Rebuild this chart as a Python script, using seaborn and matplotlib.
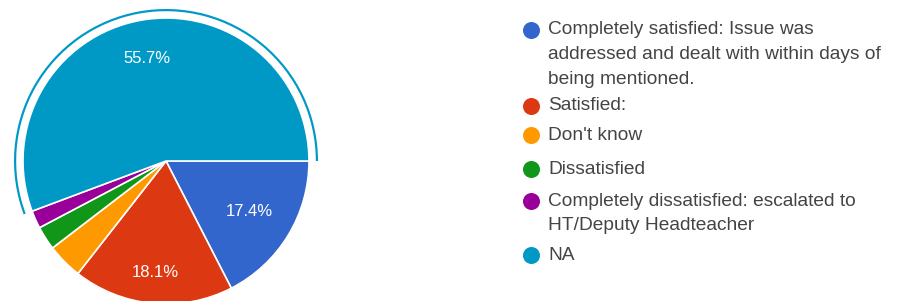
import numpy as np
import matplotlib
matplotlib.use("Agg")
import matplotlib.pyplot as plt
from matplotlib.patches import Wedge
import seaborn as sns

# responses (percentages 17.4 / 18.1 / 55.7 match these counts)
labels = [
    "Completely satisfied: Issue was\naddressed and dealt with within days of\nbeing mentioned.",
    "Satisfied:",
    "Don't know",
    "Dissatisfied",
    "Completely dissatisfied: escalated to\nHT/Deputy Headteacher",
    "NA",
]
counts = [26, 27, 6, 4, 3, 83]
colors = ["#3366CC", "#DC3912", "#FF9900", "#109618", "#990099", "#0099C6"]

sns.set_theme(style="white")
plt.rcParams["font.family"] = ["Liberation Sans", "DejaVu Sans"]

W, H = 897, 301
fig = plt.figure(figsize=(W / 100, H / 100), dpi=100)
ax = fig.add_axes([0, 0, 1, 1])

cx, cy, r = 166, H - 161, 143
pal = sns.color_palette(colors)


def pct(p):
    return f"{p:.1f}%" if p > 5 else ""


wedges, texts, autotexts = ax.pie(
    counts, colors=pal, startangle=0, counterclock=False,
    center=(cx, cy), radius=r, autopct=pct, pctdistance=0.73,
    wedgeprops=dict(edgecolor="white", linewidth=1.2),
    textprops=dict(color="white", fontsize=12), frame=True,
)
ax.set_xlim(0, W)
ax.set_ylim(0, H)
ax.axis("off")

# nudge the percentage labels radially, like the original chart
label_dist = [0.68, 0.78, 0.73, 0.73, 0.73, 0.73]
for w, t, f in zip(wedges, autotexts, label_dist):
    ang = np.deg2rad((w.theta1 + w.theta2) / 2)
    t.set_position((cx + f * r * np.cos(ang), cy + f * r * np.sin(ang)))

# highlight ring around the NA slice
na = wedges[-1]
ax.add_patch(Wedge((cx, cy), r + 9, na.theta1, na.theta2, width=2.2,
                   color=colors[-1], lw=0))

# legend drawn by hand so markers sit on the first line
line_step = 24.5
entry_top = [30, 106, 135, 169, 201, 255]   # px from top, layout only
for lab, col, top in zip(labels, colors, entry_top):
    y = H - top
    ax.scatter([531], [y], s=150, color=col, zorder=3, linewidths=0)
    for i, ln in enumerate(lab.split("\n")):
        ax.text(548, y - i * line_step, ln, fontsize=13.8, color="#444444",
                va="center")

fig.savefig("out.png", dpi=100)
